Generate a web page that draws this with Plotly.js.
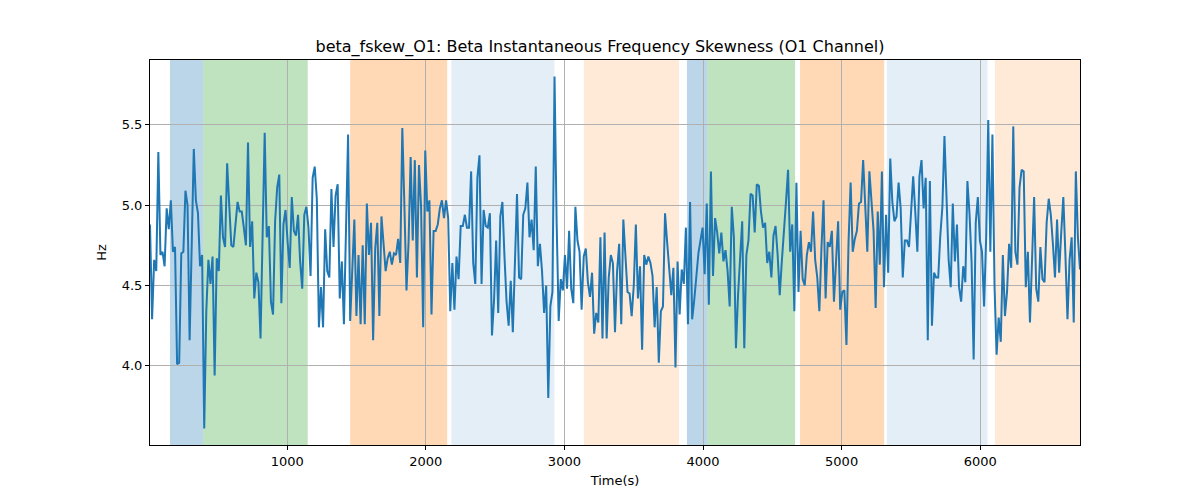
<!DOCTYPE html>
<html>
<head>
<meta charset="utf-8">
<script src="https://cdn.plot.ly/plotly-3.0.1.min.js"></script>
<style>
  html, body { margin: 0; padding: 0; background: #fff; }
  #chart { width: 1200px; height: 500px; }
</style>
</head>
<body>
<div id="chart"></div>
<script>
// skewness values in six stretches, left to right
const skewPart1 = [4.88,4.29,4.66,4.59,5.33,4.69,4.71,4.62,4.98,4.85,
  5.03,4.71,4.74,4.01,4.02,4.70,4.71,5.09,5.00,4.16,
  4.75,5.35,5.03,4.95,4.62,4.69,3.61,4.34,4.66,4.51,4.68,
  3.94,4.67,4.59,5.06,4.80,4.74,5.26,5.00,4.75,4.74,
  4.89,5.02,4.96,4.96,4.86,4.75,5.39,4.74,4.90,4.42,
  4.58,4.52,4.17,4.80,5.45,4.80,4.87,4.40,4.32,4.90,
  5.11,5.19,4.39,4.88,4.97,4.77,4.61,5.05,4.84,4.81,
  4.94,4.65,4.48,4.94,4.99];
const skewPart2 = [4.86,4.56,5.17,5.24,5.04,4.24,4.49,4.24,4.85,4.59,
  4.55,5.10,4.74,5.06,5.13,4.42,4.65,4.26,4.85,5.44,
  4.28,4.61,4.91,4.31,4.69,4.26,4.75,4.26,5.01,4.69,
  4.89,4.16,4.73,4.89,4.31,4.93,4.78,4.59,4.67,4.71,
  4.63,4.70,4.69,4.79,4.64,5.48,5.00,4.47,4.77,5.30,
  4.78,5.28,4.55,5.25,4.99,4.24,5.34,4.96,5.03,4.32,
  4.84,4.84,4.88,4.98,5.03,4.92,5.03,4.92,4.34,4.64,
  4.35,4.68,4.54,4.87,4.87];
const skewPart3 = [4.94,4.86,4.86,5.21,4.64,4.51,5.17,5.31,4.51,4.97,
  4.87,4.86,4.95,4.19,4.41,4.78,4.33,4.93,5.02,4.68,
  4.40,4.25,4.53,4.21,4.65,5.07,4.55,4.54,4.94,4.98,
  5.14,4.80,4.91,4.72,5.24,4.62,4.76,4.59,4.33,4.50,
  3.80,4.37,4.46,5.80,4.90,4.28,4.54,4.47,4.69,4.48,
  4.84,4.48,4.39,4.99,4.78,4.71,4.35,4.68,4.73,4.52,
  4.43,4.58,4.20,4.33,4.27,4.80,4.17,4.83,4.17,4.55,
  4.69,4.64,4.21,4.59,4.76];
const skewPart4 = [4.26,4.91,4.71,4.46,4.45,4.31,4.50,4.88,4.42,4.62,
  4.10,4.69,4.63,4.68,4.64,4.56,4.24,4.49,4.02,4.34,
  4.37,4.95,4.77,4.61,4.44,4.61,3.99,4.65,4.32,4.60,
  4.51,4.86,4.26,5.02,4.29,4.41,4.55,4.70,4.78,4.86,
  4.57,5.01,4.38,5.21,4.56,4.92,4.83,4.70,4.83,4.65,
  4.72,4.59,4.37,4.99,4.80,4.11,4.44,4.69,4.90,4.11,
  4.69,4.78,5.07,5.06,4.83,5.13,5.12,4.96,4.86,4.89,
  4.64,4.71,4.55,4.81];
const skewPart5 = [4.87,4.69,4.44,4.65,4.81,5.02,5.22,4.71,4.88,4.34,
  5.14,4.46,4.84,4.54,4.50,4.69,4.77,4.71,4.96,4.66,
  4.55,4.34,4.73,5.03,4.42,4.77,4.74,4.84,4.40,4.69,
  4.90,4.35,4.46,4.47,4.13,4.77,5.14,4.71,4.79,4.84,
  5.01,5.02,5.28,5.00,4.71,5.21,5.02,4.84,4.36,4.96,
  4.63,5.21,4.49,4.94,4.58,5.29,5.02,4.90,4.93,5.14,
  4.98,4.55,4.78,4.78,4.74,4.98,5.18,4.96,4.71,5.18,
  5.28,4.98,5.17,4.16,5.15];
const skewPart6 = [4.25,4.58,4.55,4.55,4.81,4.99,5.43,5.01,4.66,4.49,
  5.01,4.65,4.88,4.49,4.40,4.62,4.52,5.15,4.95,4.65,
  4.04,4.89,5.05,4.78,4.71,4.37,4.80,5.53,4.71,5.44,
  4.50,4.07,4.30,4.15,4.69,4.31,4.46,4.76,4.61,5.49,
  4.71,4.63,5.11,5.22,5.21,4.49,4.71,4.27,4.69,5.05,
  4.48,4.40,4.74,4.54,4.52,4.89,5.04,4.94,4.76,4.55,
  4.91,4.58,4.83,5.05,4.69,4.29,4.66,4.80,4.27,5.21,
  4.80,4.60];

const skew = [].concat(skewPart1, skewPart2, skewPart3, skewPart4, skewPart5, skewPart6);

const startTime = 10;
const endTime = 6720;

// shaded stretches: start, end, kind
const bandStarts = [154, 394, 1454, 2185, 3140, 3884, 4031, 4700, 5326, 6106];
const bandEnds   = [394, 1148, 2154, 2928, 3827, 4031, 4664, 5307, 6053, 6720];
const bandKinds  = ['blue', 'green', 'orange', 'paleBlue', 'paleOrange',
                    'blue', 'green', 'orange', 'paleBlue', 'paleOrange'];

const bandColors = {
  blue: 'rgba(31,119,180,0.3)',
  green: 'rgba(44,160,44,0.3)',
  orange: 'rgba(255,127,14,0.3)',
  paleBlue: 'rgba(31,119,180,0.12)',
  paleOrange: 'rgba(255,127,14,0.16)'
};

const shapes = bandStarts.map((s, i) => ({
  type: 'rect', xref: 'x', yref: 'paper',
  x0: s, x1: bandEnds[i], y0: 0, y1: 1,
  fillcolor: bandColors[bandKinds[i]],
  line: {width: 0},
  layer: 'below'
}));

const trace = {
  y: skew,
  x0: startTime,
  dx: (endTime - startTime) / (skew.length - 1),
  type: 'scatter',
  mode: 'lines',
  line: {color: '#1f77b4', width: 2},
  hoverinfo: 'x+y'
};

const font = {family: 'DejaVu Sans, sans-serif', size: 13, color: '#000'};

const axisCommon = {
  showline: true, linecolor: '#000', linewidth: 1, mirror: true,
  ticks: 'outside', ticklen: 4, tickcolor: '#000', tickwidth: 1,
  showgrid: true, gridcolor: '#b0b0b0', gridwidth: 1,
  zeroline: false, tickfont: font
};

const layout = {
  width: 1200, height: 500,
  margin: {l: 150, r: 120, t: 60, b: 55},
  paper_bgcolor: '#fff', plot_bgcolor: '#fff',
  font: font,
  showlegend: false,
  title: {
    text: 'beta_fskew_O1: Beta Instantaneous Frequency Skewness (O1 Channel)',
    font: {family: 'DejaVu Sans, sans-serif', size: 16, color: '#000'},
    x: 0.5, xanchor: 'center', y: 0.908, yanchor: 'middle'
  },
  xaxis: Object.assign({}, axisCommon, {
    range: [startTime, endTime],
    tickvals: [1000, 2000, 3000, 4000, 5000, 6000],
    title: {text: 'Time(s)', font: font, standoff: 8}
  }),
  yaxis: Object.assign({}, axisCommon, {
    range: [3.508, 5.903],
    tickvals: [4.0, 4.5, 5.0, 5.5],
    ticktext: ['4.0', '4.5', '5.0', '5.5'],
    title: {text: 'Hz', font: font, standoff: 12}
  }),
  shapes: shapes
};

Plotly.newPlot('chart', [trace], layout, {staticPlot: true, displayModeBar: false});
</script>
</body>
</html>
